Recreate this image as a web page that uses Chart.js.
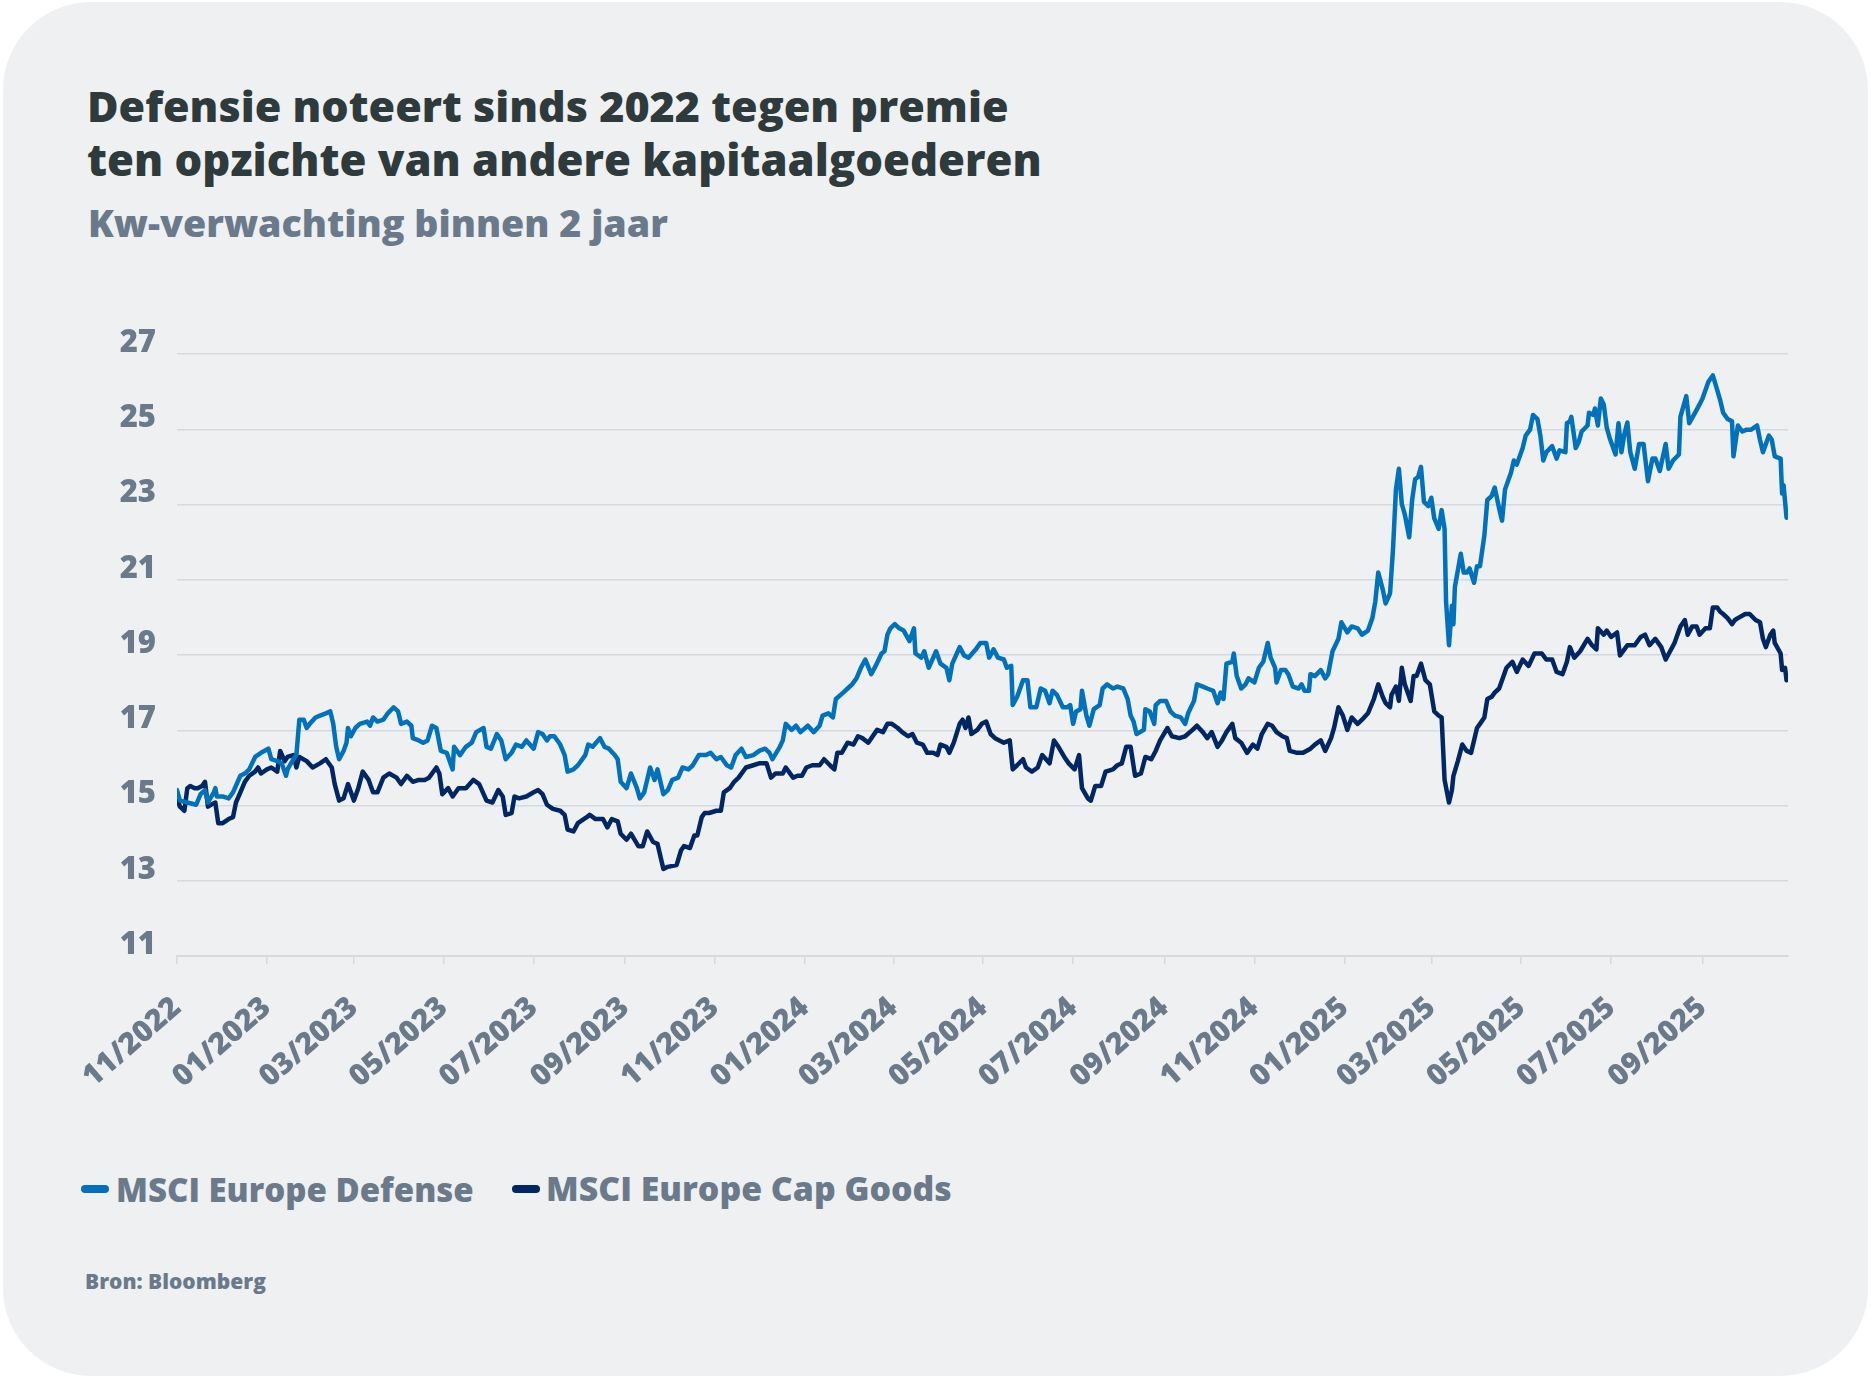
<!DOCTYPE html>
<html>
<head>
<meta charset="utf-8">
<script src="https://cdn.jsdelivr.net/npm/chart.js@4.4.1/dist/chart.umd.min.js"></script>
<style>
  html, body { margin:0; padding:0; background:#ffffff; }
  body { width:1871px; height:1378px; position:relative; overflow:hidden; font-family:"Open Sans", sans-serif; }
  #card { position:absolute; left:3px; top:2px; width:1865px; height:1374px; border-radius:88px; background:#eff0f2; }
  .txt { position:absolute; white-space:nowrap; font-family:"Open Sans", sans-serif; font-weight:800; display:inline-block; }
  .mark { position:absolute; height:8px; border-radius:4px; }
  #c { position:absolute; left:0; top:0; }
</style>
</head>
<body>
<div id="card"></div>
<div class="txt" id="t1" style="color:#2e3a3b">Defensie noteert sinds 2022 tegen premie</div>
<div class="txt" id="t2" style="color:#2e3a3b">ten opzichte van andere kapitaalgoederen</div>
<div class="txt" id="sub" style="color:#6b7a8b">Kw-verwachting binnen 2 jaar</div>
<div class="mark" style="left:81px; top:1185px; width:28px; background:#0072bc"></div>
<div class="txt" id="l1" style="color:#6b7a8b">MSCI Europe Defense</div>
<div class="mark" style="left:512px; top:1185px; width:28px; background:#002664"></div>
<div class="txt" id="l2" style="color:#6b7a8b">MSCI Europe Cap Goods</div>
<div class="txt" id="src" style="color:#6b7a8b">Bron: Bloomberg</div>
<canvas id="c" width="1871" height="1378"></canvas>
<script>
// ---- DATA (days counted from 2022-11-01) ----
const startDate = "2022-11-01";
const xTickLabels = ["11/2022","01/2023","03/2023","05/2023","07/2023","09/2023","11/2023","01/2024","03/2024","05/2024","07/2024","09/2024","11/2024","01/2025","03/2025","05/2025","07/2025","09/2025"];
const endDate = "2025-10-29";
const yTickValues = [11,13,15,17,19,21,23,25,27];

const defenseDay = [0,2,7,13,16,19,21,25,26,27,31,35,38,43,46,49,53,57,62,64,68,71,74,75,79,81,83,86,88,90,94,97,101,104,106,108,110,113,115,116,118,121,124,129,131,133,136,140,143,147,150,152,156,159,160,164,167,170,173,176,179,183,187,188,192,196,200,203,208,210,213,217,220,223,227,230,234,237,242,245,248,251,253,256,260,263,265,269,272,277,279,282,287,290,293,297,299,301,305,308,312,314,317,321,324,326,330,333,336,340,343,347,350,354,359,362,366,369,373,376,379,383,386,391,395,399,402,404,409,411,413,417,420,423,428,432,436,438,442,445,447,452,455,458,461,464,467,471,474,478,480,482,484,487,490,493,497,500,501,505,507,510,515,518,522,524,526,531,534,537,542,545,549,551,554,557,561,563,566,567,570,574,577,579,583,586,589,592,594,597,601,604,606,608,610,613,614,617,619,622,626,628,631,635,638,642,645,647,649,651,656,657,660,663,664,667,671,674,677,681,684,686,690,692,696,699,703,706,708,710,712,716,717,719,722,725,727,731,734,737,740,742,745,746,749,752,754,757,761,763,765,768,769,772,776,779,781,784,788,790,794,797,801,804,808,811,813,815,818,820,823,825,827,829,831,833,836,838,840,842,844,846,849,851,853,856,858,860,861,863,865,866,867,871,873,875,877,880,882,884,887,889,892,894,897,899,901,905,907,909,913,915,918,920,923,925,927,929,933,936,938,942,943,945,946,949,951,953,957,958,961,962,964,966,968,970,972,976,978,980,982,984,986,989,992,995,998,1001,1003,1006,1010,1012,1015,1019,1020,1024,1026,1030,1033,1035,1039,1042,1045,1047,1049,1052,1055,1056,1059,1062,1065,1068,1072,1074,1076,1080,1082,1084,1088,1089,1090,1092];
const defenseValue = [15.41,15.13,15.08,15.02,15.30,15.41,15.08,15.35,15.46,15.24,15.24,15.19,15.35,15.79,15.85,15.96,16.29,16.40,16.51,16.23,16.18,16.12,15.79,15.96,16.23,16.34,17.28,17.28,17.06,17.17,17.34,17.39,17.45,17.50,17.17,16.56,16.23,16.45,16.67,17.06,16.84,17.06,17.17,17.23,17.12,17.34,17.23,17.28,17.45,17.61,17.50,17.17,17.23,17.12,16.79,16.73,16.67,16.73,17.12,17.06,16.45,16.40,15.96,16.56,16.34,16.56,16.67,16.95,17.06,16.56,16.51,16.90,16.73,16.23,16.40,16.62,16.56,16.73,16.51,16.95,16.90,16.73,16.84,16.84,16.62,16.34,15.90,15.96,16.07,16.34,16.62,16.56,16.79,16.56,16.51,16.34,16.23,15.63,15.46,15.85,15.46,15.19,15.35,16.01,15.68,15.96,15.30,15.41,15.68,15.74,16.01,15.96,16.07,16.34,16.34,16.40,16.23,16.29,16.07,16.01,16.34,16.51,16.29,16.34,16.45,16.51,16.40,16.23,16.56,16.73,17.17,17.01,17.12,16.95,17.12,16.95,17.12,17.39,17.45,17.34,17.83,18.00,18.11,18.22,18.38,18.66,18.88,18.49,18.71,19.04,19.10,19.54,19.71,19.82,19.71,19.65,19.37,19.71,19.04,18.93,19.10,18.66,19.10,18.77,18.66,18.33,18.77,19.21,18.99,18.93,19.15,19.32,19.32,18.93,19.15,18.93,18.88,18.66,18.71,17.67,17.89,18.33,18.33,17.61,17.61,18.11,18.05,17.72,18.05,17.94,17.61,17.61,17.67,17.17,17.50,17.56,18.05,17.39,17.12,17.56,17.67,18.11,18.22,18.11,18.16,18.11,17.83,17.39,17.23,16.90,17.01,17.56,17.50,17.17,17.67,17.78,17.78,17.50,17.39,17.34,17.17,17.45,17.78,18.22,18.16,18.11,18.05,17.72,18.00,17.83,18.77,18.82,19.04,18.44,18.11,18.22,18.38,18.27,18.66,18.82,19.32,18.93,18.66,18.27,18.60,18.60,18.49,18.16,18.11,18.22,18.05,18.05,18.49,18.44,18.60,18.38,18.49,19.10,19.43,19.87,19.60,19.76,19.71,19.54,19.65,19.98,20.42,21.19,20.75,20.37,20.64,21.80,23.40,23.95,23.01,22.74,22.13,23.12,23.67,23.73,24.00,23.07,22.96,23.18,22.63,22.35,22.85,22.35,20.42,19.26,20.31,19.82,20.81,21.69,21.19,21.19,21.30,20.92,21.36,21.36,22.18,23.12,23.23,23.45,22.90,22.57,23.40,23.84,24.17,24.06,24.50,24.83,24.99,25.38,25.27,24.83,24.17,24.39,24.55,24.22,24.44,24.39,25.16,25.21,25.33,24.50,24.66,24.94,25.10,25.44,25.38,25.55,25.10,25.82,25.66,25.05,24.77,24.33,25.16,24.39,24.88,25.18,24.39,23.95,24.61,24.61,23.62,24.22,24.22,23.89,24.61,23.95,24.17,24.33,25.33,25.88,25.16,25.44,25.66,25.82,26.26,26.43,26.04,25.77,25.44,25.27,25.21,24.28,25.10,24.94,24.99,24.99,25.10,24.72,24.39,24.83,24.72,24.28,24.22,23.29,23.51,22.65];

const capGoodsDay = [0,2,5,7,9,12,14,17,19,21,23,26,28,31,35,38,40,43,46,49,53,55,57,61,64,68,70,73,75,79,81,83,88,92,97,101,105,107,110,113,116,120,123,126,130,133,136,140,144,149,152,156,160,164,168,171,176,178,180,184,187,191,196,201,205,210,214,218,221,223,227,229,232,237,242,245,248,251,255,260,263,265,269,272,278,280,284,289,292,295,299,301,305,308,313,316,319,323,326,330,333,339,342,344,348,351,353,356,358,361,366,369,371,375,378,381,386,391,395,400,403,406,411,413,418,421,424,427,431,436,439,443,446,448,451,455,459,462,465,469,472,475,479,482,485,489,492,496,499,502,506,509,513,516,518,522,524,527,531,533,535,537,539,543,546,549,552,555,561,565,567,570,574,576,580,584,587,592,595,598,602,605,609,612,614,618,620,623,627,630,635,638,641,644,647,650,654,657,661,664,667,672,675,680,684,689,692,696,699,702,706,709,712,716,718,722,726,730,733,736,740,743,746,750,753,755,760,764,769,772,776,779,783,785,788,791,794,797,801,804,808,812,815,818,820,823,824,827,829,831,833,837,839,841,844,847,850,853,856,858,860,863,865,866,869,872,875,878,882,884,887,889,892,894,897,899,902,906,909,913,917,921,926,929,933,936,940,943,945,948,952,957,960,963,964,968,970,973,977,979,984,989,993,996,999,1003,1007,1010,1013,1016,1020,1023,1025,1028,1031,1033,1037,1040,1042,1045,1047,1049,1052,1055,1057,1059,1064,1067,1071,1074,1076,1078,1081,1083,1084,1088,1089,1091,1092];
const capGoodsValue = [15.19,14.97,14.86,15.46,15.52,15.46,15.46,15.52,15.63,14.97,15.02,15.08,14.53,14.53,14.64,14.69,15.08,15.35,15.63,15.79,15.90,16.01,15.85,15.96,16.01,15.90,16.45,16.18,16.29,16.34,16.01,16.29,16.18,16.01,16.12,16.23,16.01,15.57,15.13,15.19,15.57,15.13,15.46,15.90,15.68,15.35,15.35,15.74,15.85,15.74,15.57,15.79,15.63,15.68,15.68,15.74,16.01,15.85,15.30,15.46,15.24,15.46,15.46,15.68,15.57,15.13,15.08,15.41,15.24,14.75,14.80,15.24,15.19,15.24,15.35,15.41,15.30,15.02,14.91,14.86,14.75,14.36,14.31,14.53,14.69,14.75,14.64,14.64,14.42,14.64,14.58,14.25,14.09,14.25,13.92,13.92,14.31,14.03,13.98,13.31,13.37,13.42,13.81,13.92,13.87,14.20,14.20,14.69,14.80,14.80,14.86,14.86,15.35,15.46,15.63,15.74,16.01,16.07,16.12,16.12,15.74,15.85,15.85,16.01,15.74,15.79,15.79,16.01,16.07,16.07,16.23,16.07,15.96,16.40,16.40,16.67,16.62,16.84,16.79,16.67,16.84,17.01,16.95,17.17,17.17,17.06,16.95,16.84,16.90,16.67,16.62,16.40,16.40,16.34,16.62,16.56,16.40,16.67,17.17,17.28,17.06,17.34,16.90,17.01,17.17,17.23,16.90,16.79,16.67,16.73,15.96,16.07,16.23,16.01,15.90,16.01,16.34,16.12,16.73,16.56,16.29,16.12,15.96,16.34,15.46,15.19,15.13,15.52,15.52,15.90,15.96,16.07,16.12,16.56,16.56,15.79,15.85,16.29,16.23,16.45,16.73,17.06,16.84,16.79,16.84,17.01,17.12,16.95,16.79,16.95,16.56,16.73,16.95,17.17,16.79,16.67,16.40,16.62,16.51,16.90,17.17,17.12,16.95,16.84,16.79,16.45,16.40,16.40,16.51,16.62,16.73,16.45,16.79,17.06,17.61,17.39,17.01,17.34,17.17,17.28,17.45,17.83,18.22,17.89,17.72,17.61,17.94,18.16,17.78,18.66,18.22,17.78,18.44,18.44,18.77,18.33,18.22,17.50,17.39,17.34,15.68,15.08,15.41,15.79,16.18,16.62,16.45,16.40,17.06,17.17,17.34,17.83,17.89,18.00,18.11,18.33,18.66,18.82,18.55,18.88,18.71,19.04,19.04,18.88,18.88,18.55,18.49,18.82,19.21,18.93,19.10,19.43,19.26,19.15,19.71,19.54,19.65,19.48,19.60,18.99,19.26,19.26,19.48,19.54,19.26,19.43,19.21,18.88,19.10,19.32,19.76,19.93,19.54,19.76,19.76,19.54,19.71,19.71,20.26,20.26,20.15,20.09,19.98,19.82,19.93,19.98,20.09,20.09,19.93,19.87,19.43,19.21,19.54,19.65,19.32,19.04,18.60,18.66,18.33];

// ---- helpers ----
const DAY = 86400000;
const t0 = Date.parse(startDate + "T00:00:00Z");
function dayOfLabel(lbl) {
  const [m, y] = lbl.split("/").map(Number);
  return Math.round((Date.UTC(y, m - 1, 1) - t0) / DAY);
}
const xTickDays = xTickLabels.map(dayOfLabel);
const xMax = Math.round((Date.parse(endDate + "T00:00:00Z") - t0) / DAY);

// ---- text layout (HTML) ----
const mctx = document.createElement("canvas").getContext("2d");
function place(id, left, baseline, width) {
  const el = document.getElementById(id);
  el.style.fontSize = "100px";
  el.style.lineHeight = "100px";
  const w100 = el.getBoundingClientRect().width;
  const s = 100 * width / w100;
  el.style.fontSize = s + "px";
  el.style.lineHeight = s + "px";
  mctx.font = "800 " + s + "px 'Open Sans'";
  const m = mctx.measureText(el.textContent);
  const A = m.fontBoundingBoxAscent, D = m.fontBoundingBoxDescent;
  const top = baseline - ((s - (A + D)) / 2 + A);
  el.style.left = left + "px";
  el.style.top = top + "px";
}
place("t1", 87, 122, 922);
place("t2", 87, 177, 955);
place("sub", 88, 237, 580);
place("l1", 116, 1202, 358);
place("l2", 546, 1202, 406);
place("src", 85, 1290, 181);

// ---- chart ----
const tickColor = "#6b7a8b";
const gridColor = "#d6d9dd";
const yTickFont = { family: "'Open Sans'", size: 31, weight: "800" };
const xTickFont = { family: "'Open Sans'", size: 30, weight: "800" };

new Chart(document.getElementById("c"), {
  type: "line",
  data: {
    datasets: [
      {
        label: "MSCI Europe Defense",
        data: defenseDay.map((d, i) => ({ x: d, y: defenseValue[i] })),
        borderColor: "#0072bc",
        borderWidth: 4.5,
        pointRadius: 0,
        tension: 0,
        borderJoinStyle: "round",
        borderCapStyle: "round",
        fill: false
      },
      {
        label: "MSCI Europe Cap Goods",
        data: capGoodsDay.map((d, i) => ({ x: d, y: capGoodsValue[i] })),
        borderColor: "#002664",
        borderWidth: 4.5,
        pointRadius: 0,
        tension: 0,
        borderJoinStyle: "round",
        borderCapStyle: "round",
        fill: false
      }
    ]
  },
  options: {
    responsive: false,
    animation: false,
    devicePixelRatio: 1,
    layout: { padding: { left: 0, top: 354, right: 83, bottom: 282 } },
    plugins: { legend: { display: false }, tooltip: { enabled: false } },
    scales: {
      x: {
        type: "linear",
        min: 0,
        max: xMax,
        afterBuildTicks: (s) => { s.ticks = xTickDays.map(v => ({ value: v })); },
        afterFit: (s) => { s.height = 140; },
        grid: { display: true, drawOnChartArea: false, drawTicks: true, tickLength: 8, color: gridColor, lineWidth: 1.5 },
        border: { display: true, color: gridColor, width: 2 },
        ticks: {
          autoSkip: false,
          minRotation: 41,
          maxRotation: 41,
          padding: 26,
          color: tickColor,
          font: xTickFont,
          callback: (v, i) => xTickLabels[i]
        }
      },
      y: {
        type: "linear",
        min: 11,
        max: 27,
        afterBuildTicks: (s) => { s.ticks = yTickValues.map(v => ({ value: v })); },
        afterFit: (s) => { s.width = 177; },
        grid: { color: gridColor, lineWidth: 1.5, drawTicks: false },
        border: { display: false },
        ticks: { padding: 21, labelOffset: -11, color: tickColor, font: yTickFont }
      }
    }
  }
});
</script>
</body>
</html>
